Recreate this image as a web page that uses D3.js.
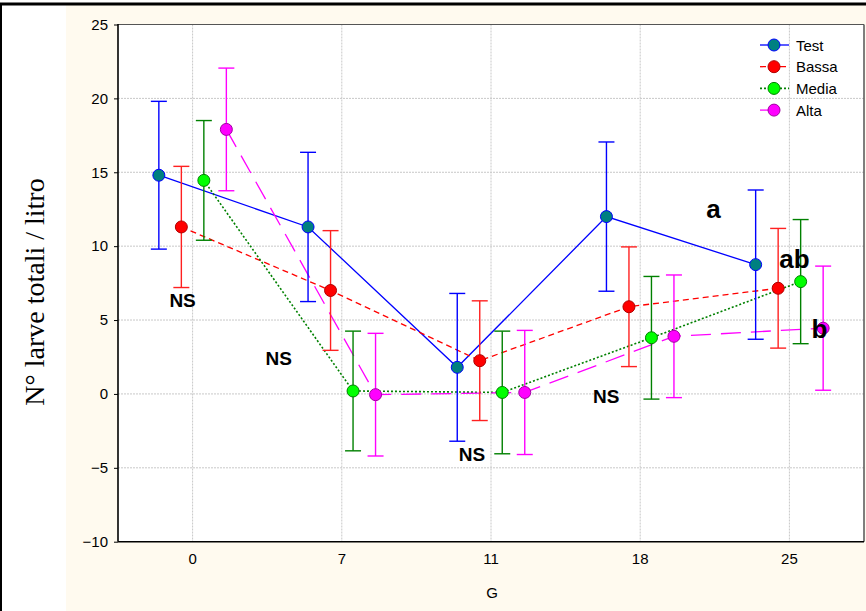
<!DOCTYPE html>
<html>
<head>
<meta charset="utf-8">
<script src="https://cdn.jsdelivr.net/npm/d3@7"></script>
<style>
  html, body { margin: 0; padding: 0; background: #fff; }
  svg { display: block; }
</style>
</head>
<body>
<svg id="chart" width="866" height="611"></svg>
<script>
// Sampling days (G) and group means with ± error half-widths
const days = ["0", "7", "11", "18", "25"];
const groupNames = ["Test", "Bassa", "Media", "Alta"];

const testMean  = [14.8, 11.3, 1.8, 12.0, 8.75];
const testErr   = [5.0, 5.05, 5.0, 5.05, 5.05];
const bassaMean = [11.3, 7.0, 2.25, 5.9, 7.15];
const bassaErr  = [4.1, 4.05, 4.05, 4.05, 4.05];
const mediaMean = [14.45, 0.2, 0.1, 3.8, 7.6];
const mediaErr  = [4.05, 4.05, 4.15, 4.15, 4.2];
const altaMean  = [17.9, -0.05, 0.1, 3.9, 4.45];
const altaErr   = [4.15, 4.15, 4.2, 4.15, 4.2];

const yTicks = [-10, -5, 0, 5, 10, 15, 20, 25];

// Significance letters: [text, day, value at baseline, font size, x shift]
const notes = [
  ["NS", "0", 5.9, 19, -10],
  ["NS", "7", 1.95, 19, -63],
  ["NS", "11", -4.55, 19, -19],
  ["NS", "18", -0.6, 19, -34],
  ["a", "25", 11.9, 26, -76],
  ["ab", "25", 8.5, 26, 5],
  ["b", "25", 3.8, 26, 30]
];

const styles = [
  { line: "#0000ff", fill: "#008080", stroke: "#0000ff", err: "#0000ff", dash: null, width: 1.3 },
  { line: "#ff0000", fill: "#ff0000", stroke: "#b00000", err: "#ff2020", dash: "6,4", width: 1.3 },
  { line: "#008000", fill: "#00ff00", stroke: "#008000", err: "#008000", dash: "2,2", width: 1.6 },
  { line: "#ff00ff", fill: "#ff00ff", stroke: "#a000a0", err: "#ff00ff", dash: "20,10", width: 1.3 }
];

const means = [testMean, bassaMean, mediaMean, altaMean];
const errs = [testErr, bassaErr, mediaErr, altaErr];

const svg = d3.select("#chart");

// Page frame and background panels
svg.append("rect").attr("x", 0).attr("y", 0).attr("width", 866).attr("height", 611).attr("fill", "#fff");
svg.append("rect").attr("x", 66).attr("y", 5).attr("width", 800).attr("height", 606).attr("fill", "#fffaef");
svg.append("line").attr("x1", 0).attr("x2", 866).attr("y1", 4).attr("y2", 4).attr("stroke", "#000").attr("stroke-width", 3);
svg.append("line").attr("x1", 1).attr("x2", 1).attr("y1", 3).attr("y2", 611).attr("stroke", "#000").attr("stroke-width", 2);

const plot = { left: 118, right: 864, top: 24.5, bottom: 541.7 };

const x = d3.scaleBand().domain(days).range([plot.left, plot.right]).paddingInner(0).paddingOuter(0);
const y = d3.scaleLinear().domain([-10, 25]).range([plot.bottom, plot.top]);
const xc = d => x(d) + x.bandwidth() / 2;
const offset = i => (i - 1.5) * 22.5;

// Plot area
svg.append("rect")
  .attr("x", plot.left).attr("y", plot.top)
  .attr("width", plot.right - plot.left).attr("height", plot.bottom - plot.top)
  .attr("fill", "#fff");

// Grid
const grid = svg.append("g").attr("stroke", "#c8c8c8").attr("stroke-width", 1).attr("stroke-dasharray", "2,1");
yTicks.slice(1, -1).forEach(v => {
  grid.append("line").attr("x1", plot.left).attr("x2", plot.right).attr("y1", y(v)).attr("y2", y(v));
});
days.forEach(d => {
  grid.append("line").attr("x1", xc(d)).attr("x2", xc(d)).attr("y1", plot.top).attr("y2", plot.bottom);
});

// Axes
const yAxis = d3.axisLeft(y).tickValues(yTicks).tickSize(4).tickPadding(6);
const gy = svg.append("g").attr("transform", `translate(${plot.left},0)`).call(yAxis);
gy.select(".domain").remove();
gy.selectAll("text").attr("font-family", "Liberation Sans, Arial, sans-serif").attr("font-size", 15).attr("fill", "#000");
gy.selectAll("line").attr("stroke", "#000");

const xAxis = d3.axisBottom(x).tickSize(0).tickPadding(12);
const gx = svg.append("g").attr("transform", `translate(0,${plot.bottom})`).call(xAxis);
gx.select(".domain").remove();
gx.selectAll("text").attr("font-family", "Liberation Sans, Arial, sans-serif").attr("font-size", 15).attr("fill", "#000");

// Frame
svg.append("line").attr("x1", plot.left).attr("x2", plot.right).attr("y1", plot.top).attr("y2", plot.top).attr("stroke", "#555").attr("stroke-width", 1);
svg.append("line").attr("x1", plot.right).attr("x2", plot.right).attr("y1", plot.top).attr("y2", plot.bottom).attr("stroke", "#555").attr("stroke-width", 1.5);
svg.append("line").attr("x1", plot.left).attr("x2", plot.right).attr("y1", plot.bottom).attr("y2", plot.bottom).attr("stroke", "#000").attr("stroke-width", 1.6);
svg.append("line").attr("x1", plot.left).attr("x2", plot.left).attr("y1", plot.top - 0.5).attr("y2", plot.bottom).attr("stroke", "#000").attr("stroke-width", 1.6);

// Axis titles
svg.append("text")
  .attr("x", 492).attr("y", 598)
  .attr("text-anchor", "middle")
  .attr("font-family", "Liberation Sans, Arial, sans-serif").attr("font-size", 15)
  .text("G");
svg.append("text")
  .attr("transform", "translate(44,292) rotate(-90)")
  .attr("text-anchor", "middle")
  .attr("font-family", "Liberation Serif, Times New Roman, serif").attr("font-size", 28)
  .text("N° larve totali / litro");

// Series lines
const line = d3.line().x(d => d.x).y(d => d.y);
means.forEach((m, i) => {
  const pts = m.map((v, j) => ({ x: xc(days[j]) + offset(i), y: y(v) }));
  svg.append("path").datum(pts)
    .attr("d", line)
    .attr("fill", "none")
    .attr("stroke", styles[i].line)
    .attr("stroke-width", styles[i].width)
    .attr("stroke-dasharray", styles[i].dash);
});

// Error bars
means.forEach((m, i) => {
  const g = svg.append("g").attr("stroke", styles[i].err).attr("stroke-width", 1.4);
  m.forEach((v, j) => {
    const cx = xc(days[j]) + offset(i);
    const lo = y(v - errs[i][j]), hi = y(v + errs[i][j]);
    g.append("line").attr("x1", cx).attr("x2", cx).attr("y1", lo).attr("y2", hi);
    g.append("line").attr("x1", cx - 8).attr("x2", cx + 8).attr("y1", lo).attr("y2", lo);
    g.append("line").attr("x1", cx - 8).attr("x2", cx + 8).attr("y1", hi).attr("y2", hi);
  });
});

// Markers
means.forEach((m, i) => {
  svg.append("g").selectAll("circle").data(m).join("circle")
    .attr("cx", (v, j) => xc(days[j]) + offset(i))
    .attr("cy", v => y(v))
    .attr("r", 6)
    .attr("fill", styles[i].fill)
    .attr("stroke", styles[i].stroke)
    .attr("stroke-width", 1);
});

// Significance labels
notes.forEach(([t, d, v, s, dx]) => {
  svg.append("text")
    .attr("x", xc(d) + dx).attr("y", y(v))
    .attr("text-anchor", "middle")
    .attr("font-family", "Liberation Sans, Arial, sans-serif")
    .attr("font-weight", "bold")
    .attr("font-size", s)
    .attr("fill", "#000")
    .text(t);
});

// Legend
const legend = svg.append("g");
groupNames.forEach((name, i) => {
  const ly = 45 + i * 21.7;
  legend.append("line")
    .attr("x1", 760).attr("x2", 789).attr("y1", ly).attr("y2", ly)
    .attr("stroke", styles[i].line).attr("stroke-width", styles[i].width)
    .attr("stroke-dasharray", styles[i].dash);
  legend.append("circle")
    .attr("cx", 774).attr("cy", ly).attr("r", 6)
    .attr("fill", styles[i].fill).attr("stroke", styles[i].stroke);
  legend.append("text")
    .attr("x", 796).attr("y", ly + 5.5)
    .attr("font-family", "Liberation Sans, Arial, sans-serif").attr("font-size", 15)
    .text(name);
});
</script>
</body>
</html>
